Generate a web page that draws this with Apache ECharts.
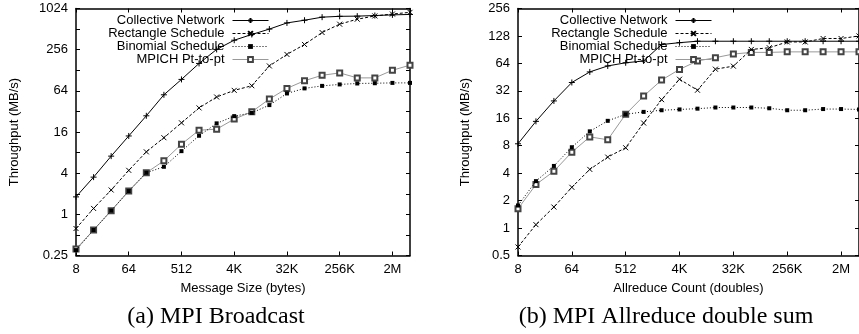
<!DOCTYPE html>
<html>
<head>
<meta charset="utf-8">
<script src="https://cdn.jsdelivr.net/npm/echarts@6/dist/echarts.min.js"></script>
<style>
html,body{margin:0;padding:0;background:#fff;}
#c{width:859px;height:334px;}
</style>
</head>
<body>
<div id="c"></div>
<script>
// ---- data ----
const sizes = [8,16,32,64,128,256,512,1024,2048,4096,8192,16384,32768,65536,131072,262144,524288,1048576,2097152,4194304];
const seriesNames = ['Collective Network','Rectangle Schedule','Binomial Schedule','MPICH Pt-to-pt'];

// (a) MPI Broadcast throughput (MB/s)
const bcastCollective = [1.8,3.5,7.1,14,27.6,56,94,161,258,352,427,512,630,690,765,787,792,808,826,838];
const bcastRectangle  = [0.62,1.22,2.27,4.4,8.2,13.2,21.8,36,52,65,76,148,218,305,456,604,714,797,850,900];
const bcastBinomial   = [0.30,0.59,1.13,2.19,4.05,4.96,8.4,14.1,21.4,27.3,30.5,39.6,58.6,69.5,75.6,79.4,82,82.7,83.6,83.6];
const bcastMpich      = [0.31,0.59,1.13,2.19,4.05,6.07,10.6,17,17.6,24.7,31.6,48.5,69.5,90,108,117,99,99,128,152];

// (b) MPI Allreduce double sum throughput (MB/s)
const allredCollective = [8.4,14.8,24.8,39.5,51.6,60,65,68,103,108,112,112,112,112,112,112,112,112,112,112];
const allredRectangle  = [0.62,1.09,1.7,2.8,4.4,6.0,7.6,14.2,25.6,42.9,32.5,55.3,59.7,91,95,110,110,120,120,128];
const allredBinomial   = [1.77,3.27,4.8,7.7,11.5,15,17.7,18.8,19.6,20,20.4,21,21,21,20.6,19.6,19.6,20.2,20.2,20];
const allredMpich      = [1.63,3.0,4.2,6.8,10,9.3,17.7,28,42,55,68,74,81,84.5,84.5,85.6,85.6,85.6,85.6,85.6];

// tick labels
const xTickValues = [8,64,512,4096,32768,262144,2097152];
const xTickLabels = ['8','64','512','4K','32K','256K','2M'];
const yTicksA = [0.25,1,4,16,64,256,1024];
const yTicksB = [0.5,1,2,4,8,16,32,64,128,256];

const captionA = '(a) MPI Broadcast';
const captionB = '(b) MPI Allreduce double sum';
const xNameA = 'Message Size (bytes)';
const xNameB = 'Allreduce Count (doubles)';
const yName = 'Throughput (MB/s)';

// ---- chart ----
const FONT = 'Liberation Sans';
function near(a,b){return Math.abs(Math.log2(a)-Math.log2(b))<1e-6;}
function xFmt(v){const i=xTickValues.findIndex(t=>near(t,v));return i>=0?xTickLabels[i]:'';}
function yFmtFactory(ticks){return function(v){const t=ticks.find(t=>near(t,v));return t===undefined?'':String(t);};}

const tickStyle = {show:true,inside:true,length:4,lineStyle:{color:'#000',width:1}};
const lineAx = {show:true,lineStyle:{color:'#000',width:1.5}};
const labelBase = {color:'#000',fontSize:13,fontFamily:FONT};

function xAxes(gridIndex,name){
  return [{
    type:'log',logBase:2,min:8,max:4194304,interval:3,gridIndex,
    position:'bottom',
    axisLine:lineAx,axisTick:tickStyle,splitLine:{show:false},
    axisLabel:Object.assign({formatter:xFmt,margin:7,showMaxLabel:false},labelBase),
    name,nameLocation:'middle',nameGap:26,
    nameTextStyle:{color:'#000',fontSize:13,fontFamily:FONT}
  },{
    type:'log',logBase:2,min:8,max:4194304,interval:3,gridIndex,
    position:'top',
    axisLine:lineAx,axisTick:tickStyle,splitLine:{show:false},axisLabel:{show:false}
  }];
}
function yAxes(gridIndex,min,max,ticks,gap){
  return [{
    type:'log',logBase:2,min,max,interval:1,gridIndex,position:'left',
    axisLine:lineAx,axisTick:tickStyle,splitLine:{show:false},
    axisLabel:Object.assign({formatter:yFmtFactory(ticks),margin:8},labelBase),
    name:yName,nameLocation:'middle',nameRotate:90,nameGap:gap,
    nameTextStyle:{color:'#000',fontSize:13,fontFamily:FONT}
  },{
    type:'log',logBase:2,min,max,interval:1,gridIndex,position:'right',
    axisLine:lineAx,axisTick:tickStyle,splitLine:{show:false},axisLabel:{show:false}
  }];
}

const styles = [
  {symbol:'path://M0,5L10,5M5,0L5,10',size:6,line:{color:'#000',width:1,type:'solid'},item:{color:'#000',borderColor:'#000',borderWidth:1}},
  {symbol:'path://M0,0L10,10M10,0L0,10',size:5,line:{color:'#000',width:1,type:[3,2]},item:{color:'#000',borderColor:'#000',borderWidth:1}},
  {symbol:'rect',size:4,line:{color:'#000',width:1,type:[1,2]},item:{color:'#000',borderWidth:0}},
  {symbol:'emptyRect',size:5,line:{color:'#999',width:1,type:'solid'},item:{color:'#444',borderColor:'#444',borderWidth:1}}
];

function mk(name,idx,arr,xi,yi){
  const s=styles[idx];
  return {
    name,type:'line',xAxisIndex:xi,yAxisIndex:yi,
    data:sizes.map((x,i)=>[x,arr[i]]),
    symbol:s.symbol,symbolSize:s.size,showSymbol:true,
    lineStyle:s.line,itemStyle:s.item,
    z: 5-idx,
    emphasis:{disabled:true}
  };
}

const legendBase = {
  data:seriesNames,orient:'vertical',align:'right',top:14,padding:0,itemGap:0,
  itemWidth:36,itemHeight:6,selectedMode:false,
  lineStyle:{width:1},
  textStyle:{color:'#000',fontSize:13,fontFamily:FONT,padding:[0,3,0,0]}
};

const option = {
  animation:false,
  backgroundColor:'#fff',
  textStyle:{fontFamily:FONT},
  grid:[
    {left:76,top:8.5,width:334,height:247},
    {left:518,top:8.5,width:342,height:247}
  ],
  xAxis:[...xAxes(0,xNameA),...xAxes(1,xNameB)],
  yAxis:[...yAxes(0,0.25,1024,yTicksA,55),...yAxes(1,0.5,256,yTicksB,46)],
  legend:[
    Object.assign({right:590},legendBase),
    Object.assign({right:147},legendBase)
  ],
  series:[
    mk(seriesNames[0],0,bcastCollective,0,0),
    mk(seriesNames[1],1,bcastRectangle,0,0),
    mk(seriesNames[2],2,bcastBinomial,0,0),
    mk(seriesNames[3],3,bcastMpich,0,0),
    mk(seriesNames[0],0,allredCollective,2,2),
    mk(seriesNames[1],1,allredRectangle,2,2),
    mk(seriesNames[2],2,allredBinomial,2,2),
    mk(seriesNames[3],3,allredMpich,2,2)
  ],
  graphic:[
    {type:'text',x:216,y:317,style:{text:captionA,font:'24px "Liberation Serif"',fill:'#000',align:'center',verticalAlign:'middle'}},
    {type:'text',x:666,y:317,style:{text:captionB,font:'24px "Liberation Serif"',fill:'#000',align:'center',verticalAlign:'middle'}}
  ]
};

const chart = echarts.init(document.getElementById('c'),null,{renderer:'canvas'});
chart.setOption(option);
</script>
</body>
</html>
